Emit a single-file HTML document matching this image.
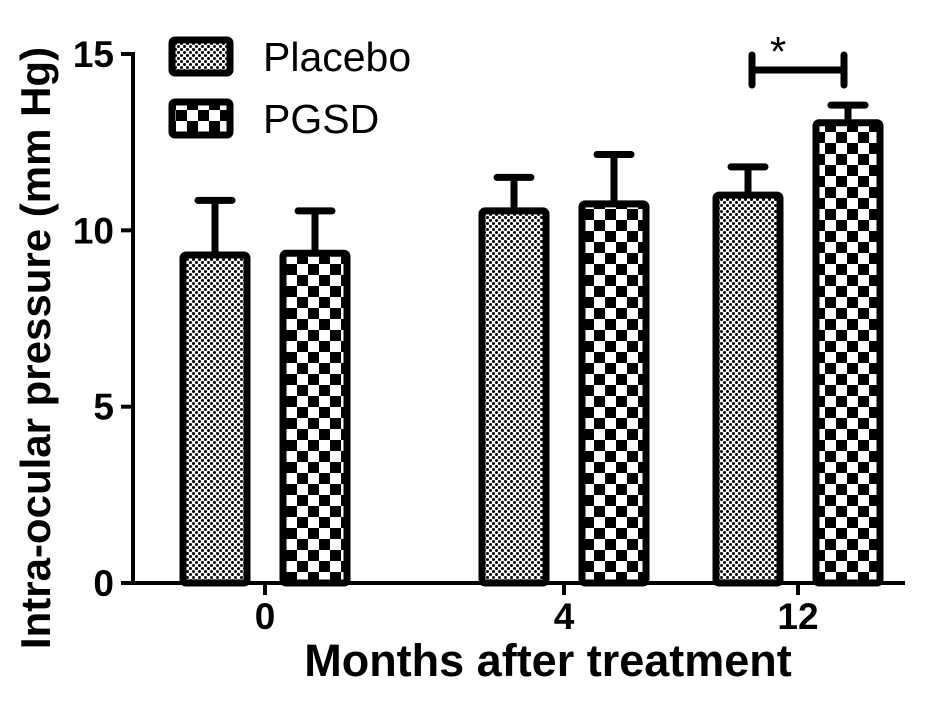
<!DOCTYPE html>
<html><head><meta charset="utf-8"><style>
body{margin:0;background:#fff;}
svg{display:block;font-family:"Liberation Sans",Arial,sans-serif;}
</style></head><body>
<svg id="chart" width="945" height="703" viewBox="0 0 945 703">
<defs>
<pattern id="dots" width="6" height="6" patternUnits="userSpaceOnUse">
<rect width="6" height="6" fill="#fff"/>
<circle cx="1.5" cy="1.5" r="1.5" fill="#000"/><circle cx="4.5" cy="4.5" r="1.5" fill="#000"/>
</pattern>
<pattern id="checks" width="22" height="22" patternUnits="userSpaceOnUse">
<rect width="22" height="22" fill="#fff"/>
<rect width="11" height="11" fill="#000"/><rect x="11" y="11" width="11" height="11" fill="#000"/>
</pattern>
</defs>
<g id="bars"></g>
<g id="axes"></g>
<g>
<rect x="172" y="40" width="58" height="33" rx="3" fill="url(#dots)" stroke="#000" stroke-width="7"/>
<text x="263" y="71" font-size="41">Placebo</text>
<rect x="172" y="102" width="58" height="33" rx="3" fill="url(#checks)" stroke="#000" stroke-width="7"/>
<text x="263" y="133" font-size="41">PGSD</text>
</g>
<g stroke="#000" stroke-width="7" stroke-linecap="round">
<line x1="752" y1="70" x2="844" y2="70"/><line x1="752" y1="55" x2="752" y2="85"/><line x1="844" y1="55" x2="844" y2="85"/>
</g>
<text x="778" y="66" font-size="42" text-anchor="middle">*</text>
<text transform="translate(50,348) rotate(-90)" font-size="42" font-weight="bold" text-anchor="middle">Intra-ocular pressure (mm Hg)</text>
<text x="548" y="676" font-size="45" font-weight="bold" text-anchor="middle">Months after treatment</text>
</svg>
<script>
const categories = ["0", "4", "12"];
const placeboValues = [9.3, 10.55, 11.0];
const placeboErrors = [1.55, 0.95, 0.8];
const pgsdValues = [9.35, 10.75, 13.05];
const pgsdErrors = [1.2, 1.4, 0.5];
const yTicks = [0, 5, 10, 15];

const NS = "http://www.w3.org/2000/svg";
const groupCenters = [265, 564, 798];
const y0px = 583, yMaxPx = 54, yMax = 15;
function yScale(v){ return y0px - (v / yMax) * (y0px - yMaxPx); }
function mk(tag, attrs, parent){ const e = document.createElementNS(NS, tag); for (const k in attrs) e.setAttribute(k, attrs[k]); parent.appendChild(e); return e; }

const bars = document.getElementById('bars');
const axes = document.getElementById('axes');
const series = [
  {name:'placebo', vals:placeboValues, errs:placeboErrors, fill:'url(#dots)', off:-50},
  {name:'pgsd', vals:pgsdValues, errs:pgsdErrors, fill:'url(#checks)', off:50}
];
categories.forEach((c, i) => {
  series.forEach(s => {
    const cx = groupCenters[i] + s.off, w = 64;
    const top = yScale(s.vals[i]), et = yScale(s.vals[i] + s.errs[i]);
    const eb = mk('line', {x1:cx, y1:top, x2:cx, y2:et, stroke:'#000', 'stroke-width':7}, bars);
    
    
    const cap = mk('line', {x1:cx-17, y1:et, x2:cx+17, y2:et, stroke:'#000', 'stroke-width':7, 'stroke-linecap':'round'}, bars);
    
    
    const r = mk('rect', {x:cx-w/2, y:top, width:w, height:y0px-top, rx:3, fill:s.fill, stroke:'#000', 'stroke-width':7}, bars);
    
    
  });
  const t = mk('line', {x1:groupCenters[i], y1:y0px, x2:groupCenters[i], y2:y0px+12, stroke:'#000', 'stroke-width':4}, axes);
  
  
  const l = mk('text', {x:groupCenters[i], y:629, 'font-size':37, 'font-weight':'bold', 'text-anchor':'middle'}, axes);
  l.textContent = c;
  
  
});
const xa = mk('line', {x1:133, y1:y0px, x2:905, y2:y0px, stroke:'#000', 'stroke-width':4}, axes);


const ya = mk('line', {x1:133, y1:yMaxPx-2, x2:133, y2:y0px+2, stroke:'#000', 'stroke-width':4}, axes);


yTicks.forEach(v => {
  const y = yScale(v);
  const t = mk('line', {x1:121, y1:y, x2:133, y2:y, stroke:'#000', 'stroke-width':4}, axes);
  
  
  const l = mk('text', {x:114, y:y+13, 'font-size':37, 'font-weight':'bold', 'text-anchor':'end'}, axes);
  l.textContent = v;
  
  
});
</script>
</body></html>
